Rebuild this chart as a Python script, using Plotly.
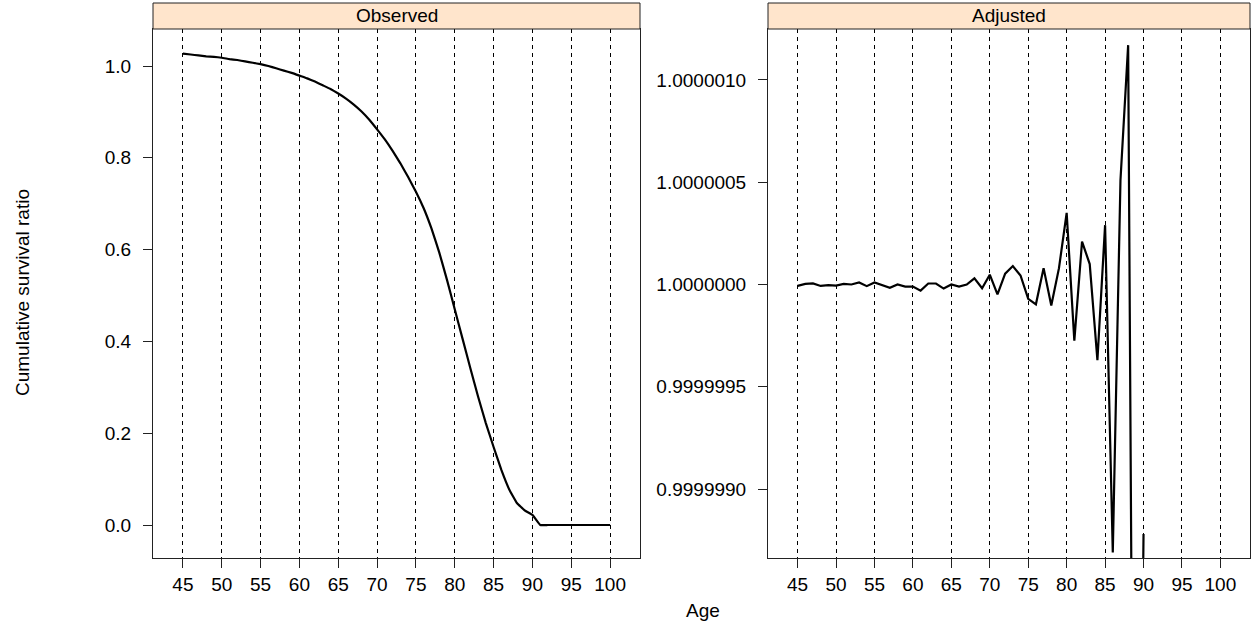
import plotly.graph_objects as go

W, H = 1257, 625

ages = list(range(45, 101))

observed = [1.027, 1.025, 1.023, 1.021, 1.020, 1.018, 1.015, 1.013, 1.010, 1.007,
            1.004, 1.000, 0.995, 0.990, 0.985, 0.979, 0.973, 0.966, 0.958, 0.950,
            0.940, 0.929, 0.916, 0.901, 0.883, 0.862, 0.840, 0.815, 0.788, 0.758,
            0.726, 0.690, 0.646, 0.594, 0.534, 0.470, 0.406, 0.342, 0.280, 0.222,
            0.170, 0.120, 0.078, 0.048, 0.032, 0.022, 0.000, 0.000, 0.000, 0.000,
            0.000, 0.000, 0.000, 0.000, 0.000, 0.000]

adjusted = [0.999999993, 1.000000003, 1.000000005, 0.999999993, 0.999999997,
            0.999999995, 1.000000003, 1.000000000, 1.000000010, 0.999999992,
            1.000000010, 0.999999998, 0.999999984, 1.000000000, 0.999999990,
            0.999999990, 0.999999970, 1.000000005, 1.000000005, 0.999999980,
            1.000000000, 0.999999990, 1.000000000, 1.000000030, 0.999999982,
            1.000000048, 0.999999952, 1.000000053, 1.000000090, 1.000000044,
            0.999999930, 0.999999903, 1.000000080, 0.999999897, 1.000000080,
            1.000000350, 0.999999725, 1.000000210, 1.000000100, 0.999999630,
            1.000000290, 0.999998690, 1.000000510, 1.000001170, 0.999995000,
            0.999998780, None, None, None, None,
            None, None, None, None, None, None]

x_ticks = [45, 50, 55, 60, 65, 70, 75, 80, 85, 90, 95, 100]
obs_ticks = [0.0, 0.2, 0.4, 0.6, 0.8, 1.0]
adj_ticks = [0.9999990, 0.9999995, 1.0000000, 1.0000005, 1.0000010]
adj_ticktext = ["0.9999990", "0.9999995", "1.0000000", "1.0000005", "1.0000010"]

panel_titles = ["Observed", "Adjusted"]
x_title = "Age"
y_title = "Cumulative survival ratio"

FONT = "Liberation Sans, Arial, Helvetica, sans-serif"
FS = 19
FRAME = "#222222"

# pixel geometry
L1, R1 = 153, 640
L2, R2 = 768, 1250
TOP, BOT = 29, 558
STRIP_TOP = 3


def px(x):
    return x / W


def py(y):
    return 1 - y / H


fig = go.Figure()
fig.add_trace(go.Scatter(x=ages, y=observed, mode="lines",
                         line=dict(color="black", width=2.2, shape="spline",
                                   smoothing=0.3),
                         xaxis="x", yaxis="y", showlegend=False,
                         hoverinfo="skip"))
fig.add_trace(go.Scatter(x=ages, y=adjusted, mode="lines",
                         line=dict(color="black", width=2.2),
                         xaxis="x2", yaxis="y2", showlegend=False,
                         hoverinfo="skip"))

xcommon = dict(range=[41.15, 103.85], tickvals=x_ticks, showgrid=True,
               gridcolor="black", gridwidth=1, griddash="4px,4px",
               showline=True, linecolor=FRAME, linewidth=1, mirror=True,
               ticks="outside", ticklen=9, tickcolor=FRAME, tickwidth=1,
               tickfont=dict(family=FONT, size=FS, color="black"),
               zeroline=False, ticklabelstandoff=0)
ycommon = dict(showgrid=False, showline=True, linecolor=FRAME, linewidth=1,
               mirror=True, ticks="outside", ticklen=9, tickcolor=FRAME,
               tickwidth=1, tickfont=dict(family=FONT, size=FS, color="black"),
               zeroline=False, ticklabelstandoff=8)

fig.update_layout(
    width=W, height=H,
    margin=dict(l=0, r=0, t=0, b=0),
    paper_bgcolor="white", plot_bgcolor="white",
    xaxis=dict(domain=[px(L1), px(R1)], anchor="y", **xcommon),
    yaxis=dict(domain=[py(BOT), py(TOP)], anchor="x",
               range=[-0.0719, 1.0806], tickvals=obs_ticks,
               tickformat=".1f", **ycommon),
    xaxis2=dict(domain=[px(L2), px(R2)], anchor="y2", **xcommon),
    yaxis2=dict(domain=[py(BOT), py(TOP)], anchor="x2",
                range=[1 - 13.37e-7, 1 + 12.49e-7], tickvals=adj_ticks,
                ticktext=adj_ticktext, **ycommon),
)

shapes = []
annotations = []
for (l, r), title in zip([(L1, R1), (L2, R2)], panel_titles):
    shapes.append(dict(type="rect", xref="paper", yref="paper",
                       x0=px(l), x1=px(r), y0=py(TOP), y1=py(STRIP_TOP),
                       fillcolor="#FFE5CC", line=dict(color=FRAME, width=1),
                       layer="above"))
    annotations.append(dict(text=title, xref="paper", yref="paper",
                            x=px((l + r) / 2), y=py((TOP + STRIP_TOP) / 2),
                            xanchor="center", yanchor="middle", showarrow=False,
                            font=dict(family=FONT, size=FS, color="black")))

annotations.append(dict(text=x_title, xref="paper", yref="paper",
                        x=px(703), y=py(610), xanchor="center", yanchor="middle",
                        showarrow=False,
                        font=dict(family=FONT, size=FS, color="black")))
annotations.append(dict(text=y_title, xref="paper", yref="paper",
                        x=px(22), y=py(293), xanchor="center", yanchor="middle",
                        textangle=-90, showarrow=False,
                        font=dict(family=FONT, size=FS, color="black")))

fig.update_layout(shapes=shapes, annotations=annotations)

fig.write_html("out.html",
               config={"displayModeBar": False},
               post_script="document.body.style.margin='0';"
                           "document.body.style.overflow='hidden';")
